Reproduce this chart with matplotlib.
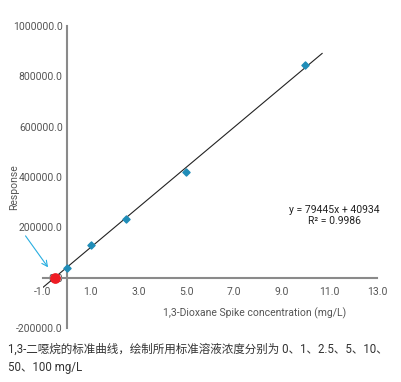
import matplotlib
matplotlib.use("Agg")
import matplotlib.pyplot as plt
import numpy as np

conc = [0, 1, 2.5, 5, 10]
response = [40000, 131000, 235000, 421000, 847000]
slope = 79445
intercept = 40934
r2 = 0.9986
xticks = [-1.0, 1.0, 3.0, 5.0, 7.0, 9.0, 11.0, 13.0]
yticks = [-200000, 0, 200000, 400000, 600000, 800000, 1000000]

narrow = 'Roboto'

fig = plt.figure(figsize=(4.02, 3.82), dpi=100)
ax = fig.add_axes([43/402, 1-328/382, 334/402, 302/382])
ax.set_xlim(-1, 13)
ax.set_ylim(-200000, 1000000)

gray = '#8a8a8a'
tcol = '#555555'
for s in ['top', 'right']:
    ax.spines[s].set_visible(False)
ax.spines['left'].set_position(('data', 0))
ax.spines['bottom'].set_position(('data', 0))
for s in ['left', 'bottom']:
    ax.spines[s].set_color(gray)
    ax.spines[s].set_linewidth(1.5)

ax.set_xticks(xticks)
ax.set_xticklabels([f"{v:.1f}" for v in xticks], fontsize=7.5, color=tcol, family=narrow)
ax.set_yticks(yticks)
ax.set_yticklabels([f"{v:.1f}" for v in yticks], fontsize=7.5, color=tcol, family=narrow)
ax.tick_params(axis='both', length=0)
ax.tick_params(axis='x', pad=7)
ax.tick_params(axis='y', pad=3)

xl = np.array([-1, 10.7])
ax.plot(xl, slope*xl + intercept, color='#222222', lw=0.8, zorder=2)
ax.scatter(conc, response, marker='D', s=13, color='#1f8db8', zorder=3)
x0 = -intercept/slope
ax.scatter([x0], [0], s=45, color='#ee1c24', zorder=4)

ax.annotate('', xy=(-0.72, 32000), xytext=(-1.8, 175000),
            arrowprops=dict(arrowstyle='->', color='#29aee0', lw=0.8),
            annotation_clip=False)

ax.text(11.2, 246500, f"y = {slope}x + {intercept}\nR² = {r2}", ha='center', va='center',
        fontsize=7.5, color='#222222', family=narrow, linespacing=1.15)

fig.text(255/402, 1-313/382, '1,3-Dioxane Spike concentration (mg/L)', ha='center', va='center',
         fontsize=7.5, color=tcol, family=narrow)
fig.text(14/402, 1-187/382, 'Response', rotation=90, ha='center', va='center',
         fontsize=7.5, color=tcol, family=narrow)

cap = "1,3-二噁烷的标准曲线，绘制所用标准溶液浓度分别为 0、1、2.5、5、10、\n50、100 mg/L"
fig.text(8/402, 1-358.5/382, cap, ha='left', va='center', fontsize=8.3, color='#333333',
         family=[narrow, 'Noto Sans CJK SC'], linespacing=1.6)

fig.savefig('out.png', dpi=100)
